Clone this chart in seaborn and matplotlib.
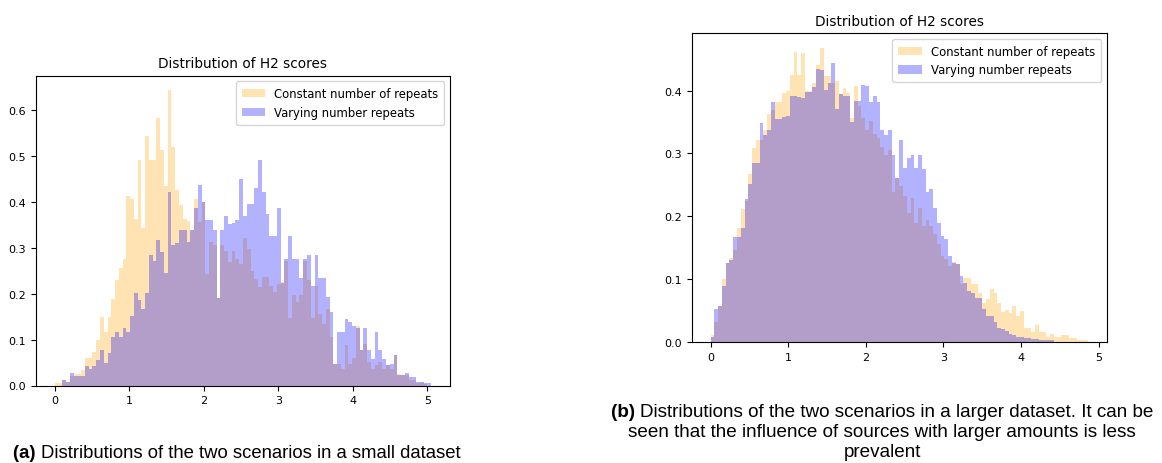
import numpy as np
import matplotlib
matplotlib.use("Agg")
import matplotlib.pyplot as plt
import seaborn as sns

# ---- histogram data (density per bin) ----
left_edges = np.linspace(0.0, 5.05, 101)
right_edges = np.linspace(0.0, 4.86, 101)

left_constant = [
    0.005, 0.005, 0.013, 0.007, 0.021, 0.025, 0.025, 0.034, 0.059, 0.059,
    0.072, 0.099, 0.150, 0.117, 0.150, 0.189, 0.229, 0.255, 0.275, 0.413,
    0.405, 0.361, 0.491, 0.342, 0.543, 0.491, 0.491, 0.582, 0.512, 0.433,
    0.642, 0.518, 0.425, 0.392, 0.362, 0.357, 0.339, 0.405, 0.355, 0.400,
    0.243, 0.311, 0.306, 0.190, 0.306, 0.293, 0.269, 0.293, 0.275, 0.264,
    0.320, 0.297, 0.248, 0.232, 0.215, 0.235, 0.235, 0.216, 0.204, 0.221,
    0.225, 0.270, 0.147, 0.197, 0.182, 0.197, 0.270, 0.230, 0.146, 0.216,
    0.155, 0.134, 0.166, 0.105, 0.047, 0.047, 0.036, 0.087, 0.047, 0.059,
    0.130, 0.078, 0.090, 0.052, 0.036, 0.045, 0.052, 0.036, 0.045, 0.036,
    0.066, 0.025, 0.023, 0.023, 0.011, 0.011, 0.005, 0.007, 0.003, 0.000,
]
left_varying = [
    0.000, 0.000, 0.013, 0.007, 0.027, 0.021, 0.021, 0.021, 0.043, 0.036,
    0.043, 0.055, 0.077, 0.048, 0.070, 0.105, 0.117, 0.105, 0.124, 0.117,
    0.152, 0.201, 0.187, 0.166, 0.201, 0.284, 0.271, 0.317, 0.291, 0.244,
    0.421, 0.306, 0.310, 0.339, 0.339, 0.311, 0.339, 0.387, 0.436, 0.400,
    0.360, 0.360, 0.339, 0.190, 0.339, 0.368, 0.351, 0.353, 0.360, 0.449,
    0.368, 0.395, 0.395, 0.429, 0.490, 0.420, 0.373, 0.326, 0.326, 0.387,
    0.222, 0.275, 0.326, 0.275, 0.275, 0.234, 0.275, 0.284, 0.216, 0.284,
    0.234, 0.234, 0.192, 0.159, 0.047, 0.116, 0.116, 0.145, 0.139, 0.130,
    0.126, 0.078, 0.124, 0.078, 0.058, 0.116, 0.078, 0.058, 0.045, 0.047,
    0.066, 0.023, 0.023, 0.027, 0.019, 0.018, 0.007, 0.007, 0.005, 0.005,
]
right_constant = [
    0.012, 0.032, 0.058, 0.101, 0.126, 0.134, 0.146, 0.182, 0.212, 0.225,
    0.267, 0.308, 0.322, 0.322, 0.338, 0.362, 0.369, 0.382, 0.382, 0.396,
    0.399, 0.425, 0.462, 0.425, 0.459, 0.399, 0.399, 0.412, 0.440, 0.468,
    0.423, 0.423, 0.412, 0.415, 0.394, 0.404, 0.396, 0.357, 0.407, 0.375,
    0.357, 0.338, 0.351, 0.331, 0.325, 0.311, 0.298, 0.306, 0.238, 0.261,
    0.248, 0.232, 0.206, 0.230, 0.190, 0.214, 0.185, 0.195, 0.184, 0.172,
    0.156, 0.137, 0.132, 0.122, 0.128, 0.124, 0.092, 0.102, 0.102, 0.092,
    0.092, 0.078, 0.063, 0.069, 0.085, 0.079, 0.063, 0.048, 0.052, 0.046,
    0.058, 0.042, 0.050, 0.022, 0.022, 0.017, 0.027, 0.016, 0.016, 0.009,
    0.013, 0.008, 0.008, 0.011, 0.011, 0.007, 0.007, 0.004, 0.004, 0.003,
]
right_varying = [
    0.008, 0.053, 0.058, 0.089, 0.126, 0.130, 0.167, 0.167, 0.182, 0.227,
    0.251, 0.285, 0.285, 0.349, 0.330, 0.338, 0.382, 0.354, 0.354, 0.358,
    0.360, 0.392, 0.392, 0.390, 0.388, 0.397, 0.397, 0.406, 0.434, 0.433,
    0.401, 0.412, 0.444, 0.370, 0.394, 0.391, 0.391, 0.350, 0.383, 0.383,
    0.409, 0.407, 0.382, 0.392, 0.382, 0.338, 0.330, 0.338, 0.297, 0.261,
    0.322, 0.277, 0.293, 0.298, 0.277, 0.298, 0.275, 0.238, 0.244, 0.214,
    0.190, 0.169, 0.164, 0.137, 0.126, 0.124, 0.106, 0.095, 0.082, 0.079,
    0.071, 0.071, 0.053, 0.042, 0.042, 0.033, 0.022, 0.021, 0.018, 0.013,
    0.012, 0.009, 0.009, 0.007, 0.007, 0.005, 0.005, 0.003, 0.003, 0.003,
    0.003, 0.000, 0.000, 0.000, 0.000, 0.000, 0.000, 0.000, 0.000, 0.000,
]

series_labels = ["Constant number of repeats", "Varying number repeats"]
series_colors = ["orange", "blue"]
title_text = "Distribution of H2 scores"
caption_a = ("(a)", "Distributions of the two scenarios in a small dataset")
caption_b = [
    ("(b)", "Distributions of the two scenarios in a larger dataset. It can be"),
    ("", "seen that the influence of sources with larger amounts is less"),
    ("", "prevalent"),
]

W, H = 1162, 464
fig = plt.figure(figsize=(W / 100, H / 100), dpi=100)
plt.rcParams["font.family"] = ["DejaVu Sans"]

ax_a = fig.add_axes([36 / W, 1 - 386.5 / H, 414 / W, 310 / H])
ax_b = fig.add_axes([691.7 / W, 1 - 343.3 / H, 415 / W, 309.3 / H])


def draw_panel(ax, edges, constant, varying):
    edges = np.asarray(edges)
    centers = (edges[:-1] + edges[1:]) / 2
    for vals, lab, col in zip([constant, varying], series_labels, series_colors):
        sns.histplot(x=centers, weights=np.asarray(vals), bins=edges.tolist(),
                     stat="count", color=col, alpha=0.3, edgecolor="none",
                     linewidth=0, label=lab, ax=ax)
    ax.set_ylabel("")
    ax.set_xlabel("")
    ax.set_title(title_text, fontsize=9.8, pad=6)
    ax.tick_params(labelsize=8.0, length=3.5)
    ax.legend(loc="upper right", fontsize=8.4, frameon=True,
              handlelength=2.0, borderpad=0.5, labelspacing=0.5)
    for s in ax.spines.values():
        s.set_linewidth(0.8)


draw_panel(ax_a, left_edges, left_constant, left_varying)
draw_panel(ax_b, right_edges, right_constant, right_varying)
ax_a.set_xticks([0, 1, 2, 3, 4, 5])
ax_b.set_xticks([0, 1, 2, 3, 4, 5])

renderer = fig.canvas.get_renderer()


def caption_line(xc_px, y_px, bold, rest, size):
    fam = ["Liberation Sans", "DejaVu Sans"]
    y = 1 - y_px / H
    parts = []
    if bold:
        parts.append(fig.text(0, y, bold + " ", fontweight="bold", fontsize=size,
                              family=fam, va="center", ha="left"))
    parts.append(fig.text(0, y, rest, fontsize=size, family=fam,
                          va="center", ha="left"))
    widths = [p.get_window_extent(renderer).width for p in parts]
    x0 = xc_px - sum(widths) / 2
    for p, w in zip(parts, widths):
        p.set_x(x0 / W)
        x0 += w


caption_line(237, 454, *caption_a, size=13.3)
for i, (b, r) in enumerate(caption_b):
    caption_line(882, 413 + i * 20, b, r, size=13.6)

fig.savefig("out.png", dpi=100)
